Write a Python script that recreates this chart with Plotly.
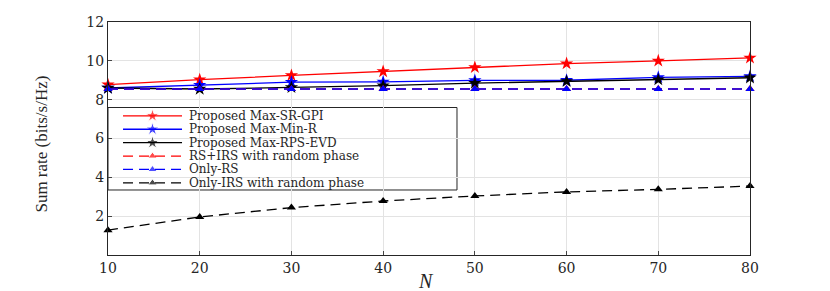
import plotly.graph_objects as go

N = [10, 20, 30, 40, 50, 60, 70, 80]
max_sr_gpi = [8.77, 9.03, 9.25, 9.45, 9.66, 9.86, 10.0, 10.15]
max_min_r = [8.6, 8.75, 8.9, 8.92, 8.99, 9.0, 9.15, 9.2]
max_rps_evd = [8.6, 8.55, 8.63, 8.72, 8.85, 8.94, 9.03, 9.13]
rs_irs_random = [8.55, 8.55, 8.55, 8.55, 8.55, 8.55, 8.55, 8.55]
only_rs = [8.55, 8.55, 8.55, 8.55, 8.55, 8.55, 8.55, 8.55]
only_irs_random = [1.28, 1.96, 2.44, 2.78, 3.04, 3.25, 3.38, 3.55]

names = ["Proposed Max-SR-GPI", "Proposed Max-Min-R", "Proposed Max-RPS-EVD",
         "RS+IRS with random phase", "Only-RS", "Only-IRS with random phase"]
series = [max_sr_gpi, max_min_r, max_rps_evd, rs_irs_random, only_rs, only_irs_random]
colors = ["red", "blue", "black", "red", "blue", "black"]
dashes = ["solid", "solid", "solid", "10px,6px", "10px,6px", "10px,6px"]
symbols = ["star", "star", "star", "triangle-up", "triangle-up", "triangle-up"]

serif = "DejaVu Serif, Liberation Serif, serif"
ink = "#262626"

fig = go.Figure()
for nm, ys, c, d, s in zip(names, series, colors, dashes, symbols):
    fig.add_trace(go.Scatter(
        x=N, y=ys, name=nm, mode="lines+markers", cliponaxis=False,
        line=dict(color=c, width=1.3, dash=d),
        marker=dict(symbol=s, size=10 if s == "star" else 8, color=c),
        showlegend=False,
    ))

# ---- hand-drawn compact legend (MATLAB-style row spacing) ----
box_l, box_r, box_t, box_b = 0.0, 0.5436, 0.633, 0.279
row_h = (box_t - box_b) / 6.15
line_x0, line_x1, mark_x, text_x = 0.0234, 0.1153, 0.0693, 0.1246

shapes = [dict(type="rect", xref="paper", yref="paper", x0=box_l, x1=box_r,
               y0=box_b, y1=box_t, fillcolor="white", line=dict(color=ink, width=1),
               layer="below")]
annotations = []
lx, ly, lsym, lcol = [], [], [], []
for i, (nm, c, d, s) in enumerate(zip(names, colors, dashes, symbols)):
    yc = box_t - row_h * (i + 0.62)
    shapes.append(dict(type="line", xref="paper", yref="paper", x0=line_x0, x1=line_x1,
                       y0=yc, y1=yc, line=dict(color=c, width=1.3, dash=d)))
    annotations.append(dict(x=text_x, y=yc, xref="paper", yref="paper", text=nm,
                            showarrow=False, xanchor="left", yanchor="middle", borderpad=0,
                            font=dict(family=serif, size=12, color=ink)))
    lx.append(mark_x)
    ly.append(yc)
    lsym.append(s)
    lcol.append(c)

# axis titles placed as annotations for exact positioning
annotations.append(dict(x=-0.104, y=0.475, xref="paper", yref="paper",
                        text="Sum rate (bits/s/Hz)", textangle=-90, showarrow=False,
                        xanchor="center", yanchor="middle",
                        font=dict(family="Liberation Serif, serif", size=17, color=ink)))
annotations.append(dict(x=0.495, y=-0.112, xref="paper", yref="paper",
                        text="<i>N</i>", showarrow=False,
                        xanchor="center", yanchor="middle",
                        font=dict(family="Liberation Serif, serif", size=20, color=ink)))

fig.add_trace(go.Scatter(
    x=lx, y=ly, xaxis="x2", yaxis="y2", mode="markers", showlegend=False,
    hoverinfo="skip", cliponaxis=False,
    marker=dict(symbol=lsym, color=lcol, size=[10, 10, 10, 8, 8, 8]),
))

fig.update_layout(
    width=830, height=291,
    margin=dict(l=100, r=88, t=14, b=44),
    paper_bgcolor="white", plot_bgcolor="white",
    font=dict(family=serif, size=13, color=ink),
    showlegend=False,
    shapes=shapes, annotations=annotations,
    xaxis=dict(
        range=[10, 80], tickvals=N, ticks="inside", ticklen=4,
        showgrid=True, gridcolor="#e3e3e3", zeroline=False,
        showline=True, linecolor=ink, mirror=True, automargin=False,
        tickfont=dict(size=14),
    ),
    yaxis=dict(
        range=[0, 12], tickvals=[2, 4, 6, 8, 10, 12], ticks="inside", ticklen=4,
        showgrid=True, gridcolor="#e3e3e3", zeroline=False,
        showline=True, linecolor=ink, mirror=True, automargin=False,
        tickfont=dict(size=14),
    ),
    xaxis2=dict(range=[0, 1], overlaying="x", visible=False),
    yaxis2=dict(range=[0, 1], overlaying="y", visible=False),
)
fig.write_html("out.html")
